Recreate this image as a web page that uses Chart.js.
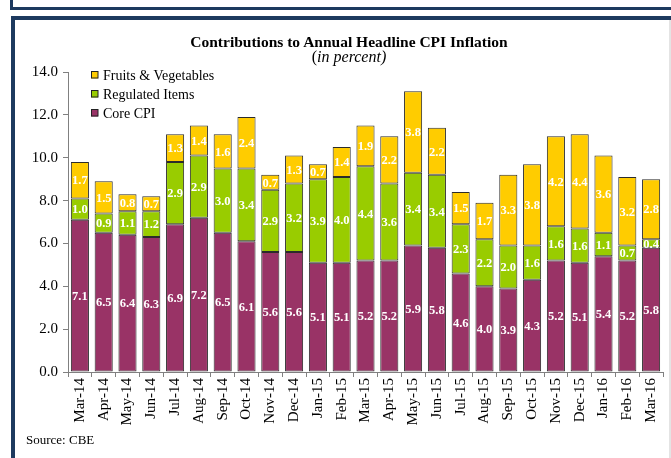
<!DOCTYPE html>
<html>
<head>
<meta charset="utf-8">
<script src="https://cdn.jsdelivr.net/npm/chart.js@4/dist/chart.umd.min.js"></script>
<style>
  html, body { margin: 0; padding: 0; background: #ffffff; }
  body { width: 671px; height: 458px; position: relative; overflow: hidden; font-family: "Liberation Serif", "DejaVu Serif", serif; }
  #c { position: absolute; left: 0; top: 0; }
  .frame { position: absolute; background: #1d3a5f; }
  .txt { position: absolute; color: #000; white-space: nowrap; line-height: 1; }
</style>
</head>
<body>
<canvas id="c" width="671" height="458"></canvas>
<div class="frame" style="left:10px; top:0; width:3px; height:10px;"></div>
<div class="frame" style="left:10px; top:7px; width:661px; height:3px;"></div>
<div class="frame" style="left:11px; top:16px; width:660px; height:4px;"></div>
<div class="frame" style="left:11px; top:16px; width:4px; height:442px;"></div>
<div style="position:absolute; left:669px; top:20px; width:2px; height:438px; background:#e4e4e4;"></div>
<div class="txt" style="left:0; width:698px; top:34px; text-align:center; font-weight:bold; font-size:15.5px;">Contributions to Annual Headline CPI Inflation</div>
<div class="txt" style="left:0; width:698px; top:49px; text-align:center; font-size:16px;">(<i>in percent)</i></div>
<div class="txt" style="left:26px; top:433px; font-size:13px;">Source: CBE</div>
<script>
const categories = ["Mar-14","Apr-14","May-14","Jun-14","Jul-14","Aug-14","Sep-14","Oct-14","Nov-14","Dec-14","Jan-15","Feb-15","Mar-15","Apr-15","May-15","Jun-15","Jul-15","Aug-15","Sep-15","Oct-15","Nov-15","Dec-15","Jan-16","Feb-16","Mar-16"];
const coreCPI = [7.1,6.5,6.4,6.3,6.9,7.2,6.5,6.1,5.6,5.6,5.1,5.1,5.2,5.2,5.9,5.8,4.6,4.0,3.9,4.3,5.2,5.1,5.4,5.2,5.8];
const regulatedItems = [1.0,0.9,1.1,1.2,2.9,2.9,3.0,3.4,2.9,3.2,3.9,4.0,4.4,3.6,3.4,3.4,2.3,2.2,2.0,1.6,1.6,1.6,1.1,0.7,0.4];
const fruitsVegetables = [1.7,1.5,0.8,0.7,1.3,1.4,1.6,2.4,0.7,1.3,0.7,1.4,1.9,2.2,3.8,2.2,1.5,1.7,3.3,3.8,4.2,4.4,3.6,3.2,2.8];
const yTicks = [0,2,4,6,8,10,12,14];

const SERIF = '"Liberation Serif", "DejaVu Serif", serif';

const labelPlugin = {
  id: 'barLabels',
  afterDatasetsDraw(chart) {
    const ctx = chart.ctx;
    ctx.save();
    ctx.font = 'bold 12.5px ' + SERIF;
    ctx.fillStyle = '#ffffff';
    ctx.textAlign = 'center';
    ctx.textBaseline = 'middle';
    chart.data.datasets.forEach((ds, i) => {
      const meta = chart.getDatasetMeta(i);
      meta.data.forEach((bar, j) => {
        const p = bar.getProps(['x', 'y', 'base'], true);
        ctx.fillText(ds.data[j].toFixed(1), p.x, (p.y + p.base) / 2 + 1);
      });
    });
    ctx.restore();
  }
};

const legendPlugin = {
  id: 'customLegend',
  afterDraw(chart) {
    const ctx = chart.ctx;
    const ds = chart.data.datasets.slice().reverse();
    ctx.save();
    ctx.font = '14px ' + SERIF;
    ctx.textBaseline = 'middle';
    ds.forEach((d, k) => {
      const yc = 75 + k * 19;
      ctx.fillStyle = d.backgroundColor;
      ctx.fillRect(91, yc - 3.5, 7, 7);
      ctx.strokeStyle = '#222';
      ctx.lineWidth = 1;
      ctx.strokeRect(91.5, yc - 3.5, 6.5, 6.5);
      ctx.fillStyle = '#000';
      ctx.fillText(d.label, 103, yc + 1);
    });
    ctx.restore();
  }
};

new Chart(document.getElementById('c'), {
  type: 'bar',
  data: {
    labels: categories,
    datasets: [
      { label: 'Core CPI', data: coreCPI, backgroundColor: '#993366', borderColor: '#2b2b2b', borderWidth: 1, borderSkipped: false },
      { label: 'Regulated Items', data: regulatedItems, backgroundColor: '#99cc00', borderColor: '#2b2b2b', borderWidth: 1, borderSkipped: false },
      { label: 'Fruits & Vegetables', data: fruitsVegetables, backgroundColor: '#ffcc00', borderColor: '#2b2b2b', borderWidth: 1, borderSkipped: false }
    ]
  },
  options: {
    responsive: false,
    animation: false,
    devicePixelRatio: 1,
    layout: { padding: { left: 0, right: 8, top: 72, bottom: 0 } },
    plugins: { legend: { display: false }, title: { display: false }, tooltip: { enabled: false } },
    datasets: { bar: { barPercentage: 0.76, categoryPercentage: 1.0 } },
    scales: {
      x: {
        stacked: true,
        afterFit(s) { s.height = 86; },
        grid: { display: true, drawOnChartArea: false, drawTicks: true, tickLength: 5, color: '#808080', offset: true },
        border: { display: true, color: '#808080' },
        ticks: { color: '#000', font: { family: SERIF, size: 15 }, maxRotation: 90, minRotation: 90, padding: 1, autoSkip: false }
      },
      y: {
        stacked: true,
        min: 0, max: 14,
        afterFit(s) { s.width = 68; },
        afterBuildTicks(s) { s.ticks = yTicks.map(v => ({ value: v })); },
        grid: { display: true, drawOnChartArea: false, drawTicks: true, tickLength: 5, color: '#808080' },
        border: { display: true, color: '#808080' },
        ticks: { color: '#000', font: { family: SERIF, size: 15 }, padding: 5, callback: v => Number(v).toFixed(1) }
      }
    }
  },
  plugins: [labelPlugin, legendPlugin]
});
</script>
</body>
</html>
